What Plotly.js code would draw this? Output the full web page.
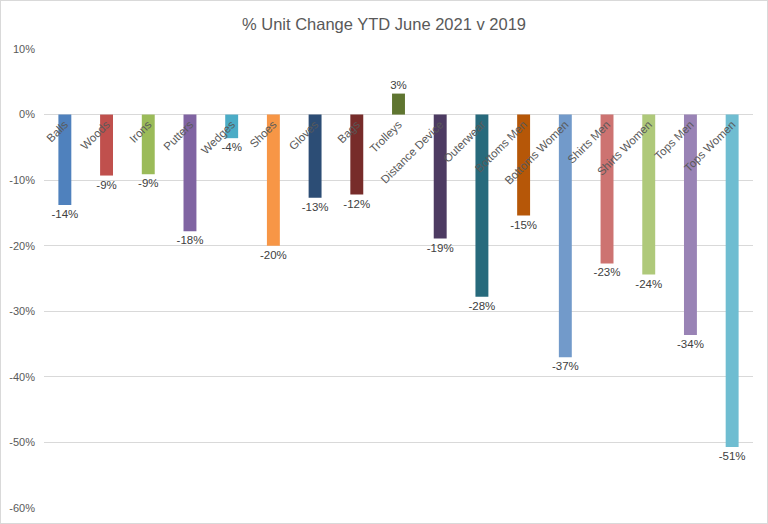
<!DOCTYPE html>
<html>
<head>
<meta charset="utf-8">
<script src="https://cdn.plot.ly/plotly-3.0.1.min.js"></script>
<style>
html,body{margin:0;padding:0;background:#fff;}
#chart{width:768px;height:524px;box-sizing:border-box;border:1px solid #d9d9d9;}
</style>
</head>
<body>
<div id="chart"></div>
<script>
var categories = ["Balls","Woods","Irons","Putters","Wedges","Shoes","Gloves","Bags","Trolleys","Distance Device","Outerwear","Bottoms Men","Bottoms Women","Shirts Men","Shirts Women","Tops Men","Tops Women"];
var values = [-13.8,-9.3,-9.1,-17.8,-3.6,-20.0,-12.7,-12.2,3.2,-18.9,-27.8,-15.4,-37.0,-22.7,-24.4,-33.6,-50.7];
var colors = ["#4F81BD","#C0504D","#9BBB59","#8064A2","#4BACC6","#F79646","#2C4D75","#772C2A","#5F7530","#4D3B62","#276A7C","#B65708","#729ACA","#CD7371","#AFC97A","#9983B5","#6FBDD1"];
var yTicks = [10,0,-10,-20,-30,-40,-50,-60];
var yTickText = ["10%","0%","-10%","-20%","-30%","-40%","-50%","-60%"];

var FONT = "Liberation Sans, Arial, sans-serif";
var yMin = -60, yMax = 10;
var trace = {
  type: "bar",
  x: categories,
  y: values,
  marker: {color: colors},
  texttemplate: "%{y:.0f}%",
  textposition: "outside",
  constraintext: "none",
  cliponaxis: false,
  textfont: {family: FONT, size: 11.5, color: "#404040"},
  hoverinfo: "x+y"
};
var layout = {
  width: 766, height: 522,
  margin: {l: 43, r: 14, t: 48, b: 15},
  paper_bgcolor: "#ffffff",
  plot_bgcolor: "#ffffff",
  bargap: 0.69,
  showlegend: false,
  title: {text: "% Unit Change YTD June 2021 v 2019", x: 0.5, xanchor: "center", y: 0.955, yanchor: "middle",
          font: {family: FONT, size: 16.5, color: "#595959"}},
  xaxis: {
    type: "category",
    anchor: "free",
    position: (0 - yMin) / (yMax - yMin),
    tickangle: -45,
    showgrid: false,
    showline: false,
    ticks: "",
    ticklen: 0,
    tickfont: {family: FONT, size: 11.5, color: "#595959"},
    zeroline: false
  },
  yaxis: {
    range: [yMin, yMax],
    tickvals: yTicks,
    ticktext: yTickText,
    showgrid: true,
    gridcolor: "#d9d9d9",
    gridwidth: 1,
    zeroline: true,
    zerolinecolor: "#d9d9d9",
    zerolinewidth: 1,
    showline: false,
    ticks: "",
    ticklabelstandoff: 8,
    tickfont: {family: FONT, size: 11, color: "#595959"},
    automargin: false
  }
};
Plotly.newPlot("chart", [trace], layout, {displayModeBar: false, staticPlot: true});
</script>
</body>
</html>
